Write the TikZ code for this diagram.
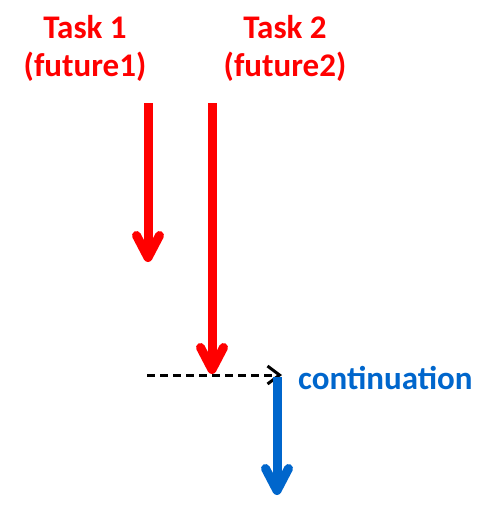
\documentclass[tikz,border=0pt]{standalone}
\usepackage{fontspec}
\setmainfont{Carlito}
\usetikzlibrary{arrows.meta}
\definecolor{taskred}{RGB}{255,0,0}
\definecolor{contblue}{RGB}{0,102,204}

\begin{document}
\begin{tikzpicture}[x=1pt, y=-1pt,
	tasklabel/.style={font=\bfseries\fontsize{33}{38}\selectfont, align=center, text=taskred, inner sep=0pt, anchor=base},
	taskline/.style={draw=taskred, line width=9pt, -{Straight Barb[length=22pt, width=23pt, round]}},
	contline/.style={draw=contblue, line width=9pt, -{Straight Barb[length=22pt, width=23pt, round]}},
	waitline/.style={draw=black, line width=3pt, dash pattern=on 8pt off 5pt, -{Straight Barb[length=12pt, width=18pt]}}]
	\useasboundingbox (0, 0) rectangle (485, 519);
	% labels of the two tasks
	\node (l1) at (85, 77)	[tasklabel] {Task 1\\(future1)};
	\node (l2) at (285, 77)	[tasklabel] {Task 2\\(future2)};
	\node (cl) at (298, 389)	[font=\bfseries\fontsize{33}{38}\selectfont, text=contblue, inner sep=0pt, anchor=base west] {continuation};
	% end points
	\coordinate (a1) at (148, 103);
	\coordinate (b1) at (148, 262);
	\coordinate (a2) at (212, 103);
	\coordinate (b2) at (212, 374);
	\coordinate (w1) at (147, 375);
	\coordinate (w2) at (282, 375);
	\coordinate (c1) at (277, 377);
	\coordinate (c2) at (277, 495);
	\draw[taskline] (a1) -- (b1);
	\draw[taskline] (a2) -- (b2);
	\draw[waitline] (w1) -- (w2);
	\draw[contline] (c1) -- (c2);
\end{tikzpicture}
\end{document}
